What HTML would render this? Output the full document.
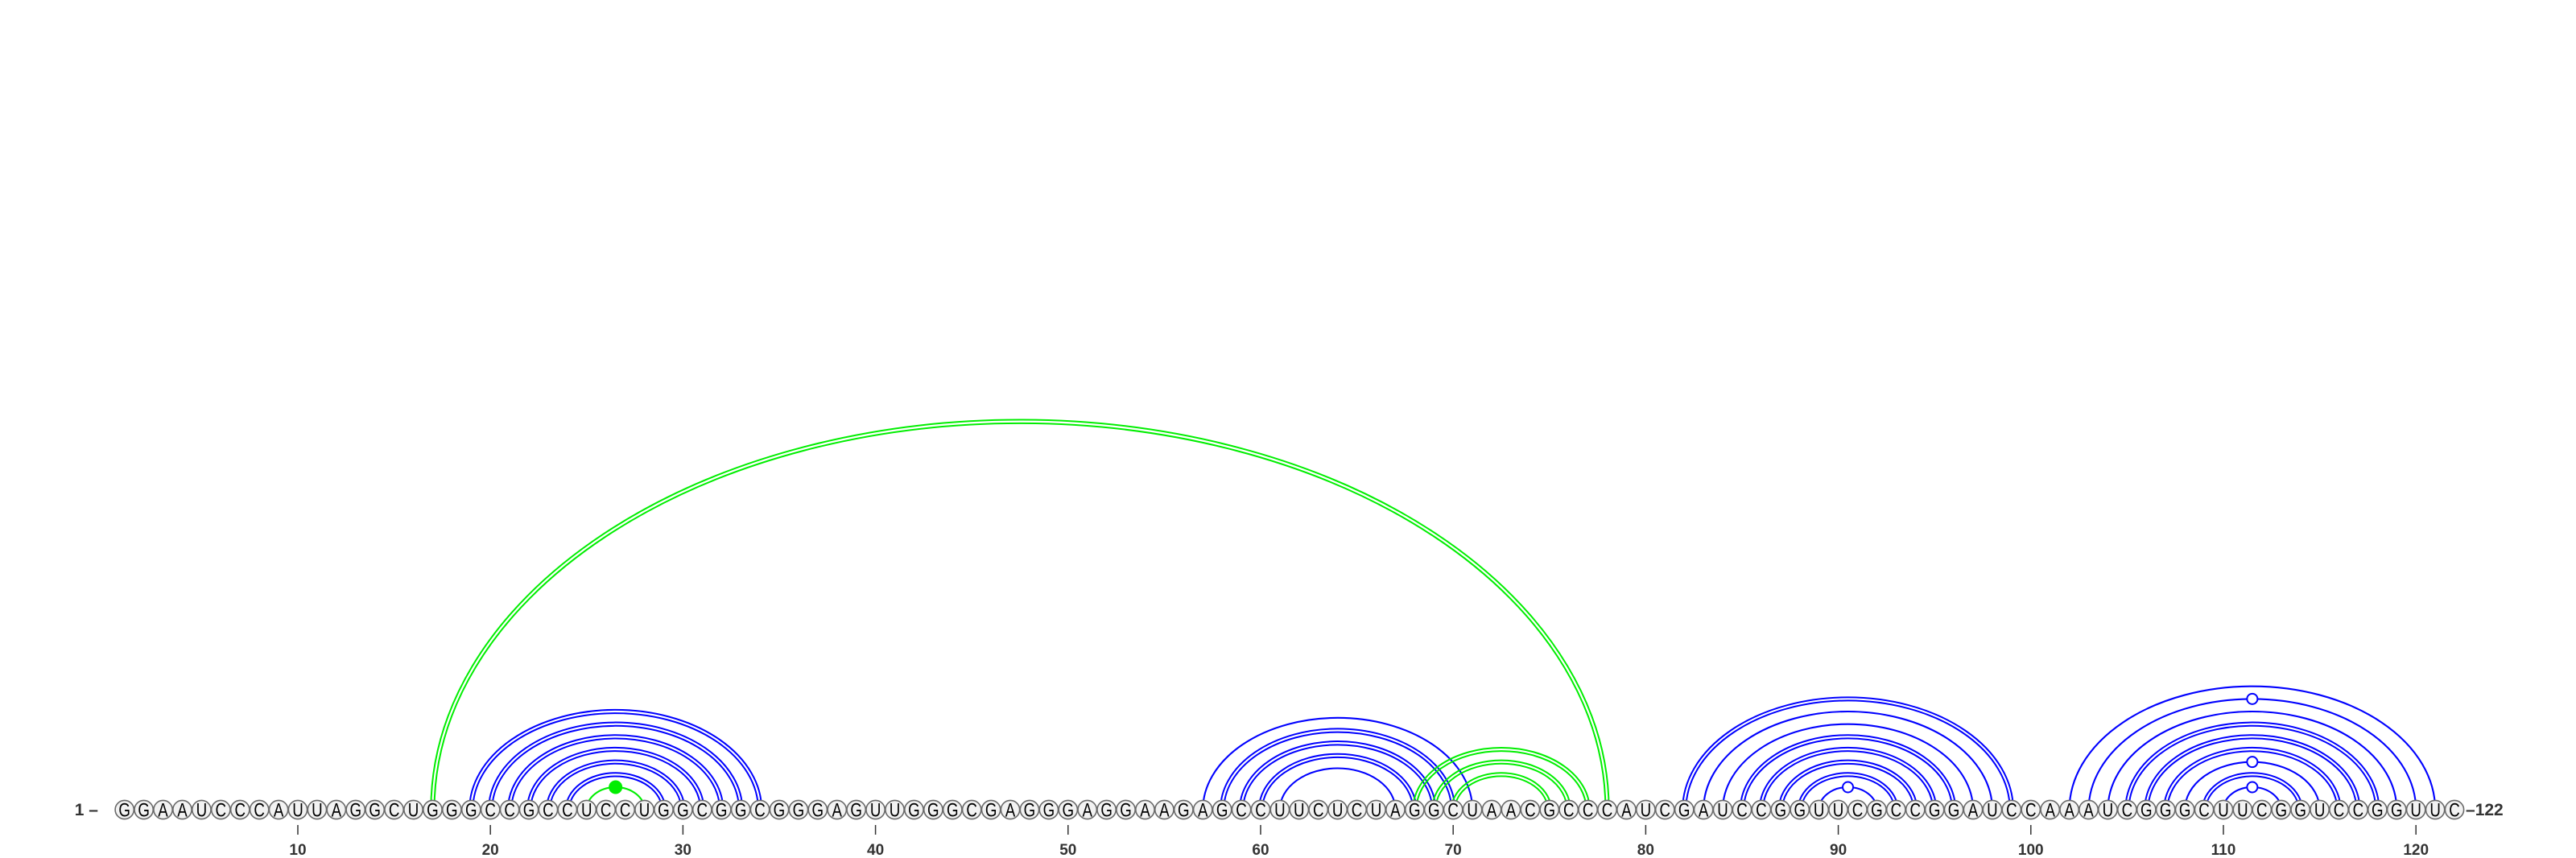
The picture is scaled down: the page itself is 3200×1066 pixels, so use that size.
<!DOCTYPE html>
<html><head><meta charset="utf-8"><style>
html,body{margin:0;padding:0;background:#fff;}
svg{display:block;}
</style></head><body>
<svg id="chart" width="3200" height="1066" xmlns="http://www.w3.org/2000/svg">
<g id="arcs"></g>
<g id="nts"></g>
<g id="axis"></g>
</svg>
<script>
const sequence = "GGAAUCCCAUUAGGCUGGGCCGCCUCCUGGCGGCGGGAGUUGGGCGAGGGAGGAAGAGCCUUCUCUAGGCUAACGCCCAUCGAUCCGGUUCGCCGGAUCCAAAUCGGGCUUCGGUCCGGUUC";
const pairStart = [19,20,21,22,23,24, 25, 17, 57,58,59,60,61, 68,69,70, 82,83,84,85,86,87,88,89, 102,103,104,105,106,107,108,109,110];
const pairEnd   = [34,33,32,31,30,29, 28, 78, 71,70,69,68,67, 77,76,75, 99,98,97,96,95,94,93,92, 121,120,119,118,117,116,115,114,113];
const pairColor = ["b","b","b","b","b","b","g","g","b","b","b","b","b","g","g","g","b","b","b","b","b","b","b","b","b","b","b","b","b","b","b","b","b"];
const pairDouble= [1,1,1,1,1,1,0,1, 0,1,1,1,0, 1,1,1, 1,0,0,1,1,1,1,0, 0,0,0,1,1,1,0,1,0];
const pairMarker= ["","","","","","","fill","", "","","","","", "","","", "","","","","","","","open", "","open","","","","","open","","open"];
const tickLabels = [10,20,30,40,50,60,70,80,90,100,110,120];

const NS="http://www.w3.org/2000/svg";
const X0=154.7, DX=23.92, Y0=1006;
const xPos = n => X0 + (n-1)*DX;
const colors={b:"#0000ff",g:"#00ee00"};
function mk(tag,attrs,parent){const e=document.createElementNS(NS,tag);for(const k in attrs)e.setAttribute(k,attrs[k]);parent.appendChild(e);return e;}
const arcs=document.getElementById('arcs'), nts=document.getElementById('nts'), axis=document.getElementById('axis');
function arcPath(cx,rx,ry){return `M${cx-rx},${Y0} A${rx},${ry} 0 0 1 ${cx+rx},${Y0}`;}
pairStart.forEach((s,k)=>{
  const e=pairEnd[k];
  const cx=(xPos(s)+xPos(e))/2, rx=(xPos(e)-xPos(s))/2, ry=0.655*rx+4.5;
  const col=colors[pairColor[k]];
  const g=mk('g',{},arcs);
  
  
  if(pairDouble[k]){
    mk('path',{d:arcPath(cx,rx-2.1,ry-2.1),fill:'none',stroke:col,'stroke-width':2},g);
    mk('path',{d:arcPath(cx,rx+2.1,ry+2.1),fill:'none',stroke:col,'stroke-width':2},g);
  } else {
    mk('path',{d:arcPath(cx,rx,ry),fill:'none',stroke:col,'stroke-width':2.1},g);
  }
  if(pairMarker[k]){
    const m=mk('circle',{cx:cx,cy:Y0-ry,r:pairMarker[k]==='fill'?7.5:6.5,fill:pairMarker[k]==='fill'?col:'#fff',stroke:col,'stroke-width':2},g);
    
    
  }
});
for(let i=0;i<sequence.length;i++){
  const n=i+1, x=xPos(n);
  const g=mk('g',{},nts);
  
  
  mk('circle',{cx:x,cy:Y0,r:11.6,fill:'#f2f2f2',stroke:'#6a6a6a','stroke-width':1.6},g);
  const t=mk('text',{x:x,y:Y0+8.5,'text-anchor':'middle','font-family':'"Liberation Sans", sans-serif','font-size':24,fill:'#000',transform:`translate(${x},0) scale(0.78,1) translate(${-x},0)`},g);
  t.textContent=sequence[i];
}
const l1=mk('text',{x:122,y:Y0+7,'text-anchor':'end','font-family':'"Liberation Sans", sans-serif','font-size':21,'font-weight':'bold',fill:'#333'},axis);
l1.textContent='1 \u2013';


const l2=mk('text',{x:xPos(sequence.length)+14,y:Y0+7,'text-anchor':'start','font-family':'"Liberation Sans", sans-serif','font-size':21,'font-weight':'bold',fill:'#333'},axis);
l2.textContent='\u2013122';


tickLabels.forEach(v=>{
  const x=xPos(v);
  const tk=mk('line',{x1:x,x2:x,y1:1025,y2:1037,stroke:'#333','stroke-width':1.5},axis);
  
  
  const tl=mk('text',{x:x,y:1062,'text-anchor':'middle','font-family':'"Liberation Sans", sans-serif','font-size':19,'font-weight':'bold',fill:'#333'},axis);
  tl.textContent=v;
  
  
});
</script>
</body></html>
